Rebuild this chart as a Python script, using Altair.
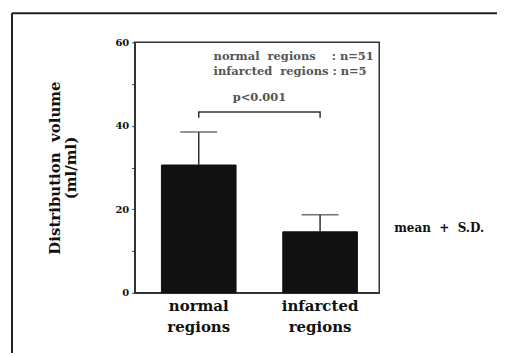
import altair as alt
import pandas as pd

groups = ["normal regions", "infarcted regions"]
means = [30.6, 14.6]
sds = [7.9, 4.1]
counts = [51, 5]
y_ticks = [0, 10, 20, 30, 40, 50, 60]
p_text = "p<0.001"
bracket_top = 43.3
bracket_end = 41.9

NB = "\u00a0"
SERIF = "DejaVu Serif"

df = pd.DataFrame({"group": groups, "mean": means, "sd": sds})
df["upper"] = df["mean"] + df["sd"]

bracket = pd.DataFrame({
    "group": [groups[0], groups[0], groups[1], groups[1]],
    "y": [bracket_end, bracket_top, bracket_top, bracket_end],
    "order": [0, 1, 2, 3],
})

xscale = alt.Scale(paddingInner=0.385, paddingOuter=0.2, align=0.55)
xenc = alt.X("group:N", sort=groups, title=None, scale=xscale,
             axis=alt.Axis(labelAngle=0, labelExpr="split(datum.label, ' ')",
                           labelFont=SERIF, labelFontWeight="bold",
                           labelFontSize=15, labelColor="#111", labelLineHeight=21,
                           labelPadding=6, ticks=False, domainColor="#333",
                           domainWidth=1.5))
yscale = alt.Scale(domain=[0, 60], nice=False)

base = alt.Chart(df)
bars = base.mark_bar(color="#111", stroke="#111").encode(
    x=xenc,
    y=alt.Y("mean:Q", scale=yscale,
            title=["Distribution" + NB * 2 + "volume", "(ml/ml)"],
            axis=alt.Axis(values=y_ticks, grid=False,
                          labelExpr="datum.value % 20 == 0 ? datum.label : ''",
                          labelFont=SERIF, labelFontWeight="bold",
                          labelFontSize=10, labelColor="#111", labelPadding=3,
                          tickSize=3, tickColor="#333", domainColor="#333",
                          domainWidth=1.5,
                          titleFont=SERIF, titleFontWeight="bold",
                          titleFontSize=15, titleColor="#111", titlePadding=36,
                          titleLineHeight=16)),
)
err = base.mark_rule(color="#333", strokeWidth=1.5).encode(
    x=alt.X("group:N", sort=groups, scale=xscale), y="mean:Q", y2="upper:Q")
cap = base.mark_tick(color="#333", thickness=1.5, size=37).encode(
    x=alt.X("group:N", sort=groups, scale=xscale), y=alt.Y("upper:Q"))

br = alt.Chart(bracket).mark_line(color="#333", strokeWidth=1.5).encode(
    x=alt.X("group:N", sort=groups, scale=xscale), y=alt.Y("y:Q"), order="order:Q")

ann = pd.DataFrame({
    "t": ["normal" + NB * 2 + "regions" + NB * 4 + ":" + NB + f"n={counts[0]}",
          "infarcted" + NB * 2 + "regions" + NB + ":" + NB + f"n={counts[1]}",
          p_text],
    "y": [56.5, 52.9, 46.6],
})
ann_left = alt.Chart(ann.iloc[:2]).mark_text(
    align="left", baseline="middle", font=SERIF, fontWeight="bold",
    fontSize=11.5, color="#555").encode(
    x=alt.value(79), y=alt.Y("y:Q"), text="t:N")
ann_p = alt.Chart(ann.iloc[2:]).mark_text(
    align="center", baseline="middle", font=SERIF, fontWeight="bold",
    fontSize=11.5, color="#555").encode(
    x=alt.value(125), y=alt.Y("y:Q"), text="t:N")

msd = alt.Chart(pd.DataFrame({"t": ["mean" + NB * 2 + "+" + NB * 2 + "S.D."], "y": [15.5]})).mark_text(
    align="left", baseline="middle", font=SERIF, fontWeight="bold",
    fontSize=12, color="#111").encode(x=alt.value(260), y=alt.Y("y:Q"), text="t:N")

one = pd.DataFrame({"k": [0]})
frame_left = alt.Chart(one).mark_rule(color="#222", strokeWidth=2).encode(
    x=alt.value(-123), y=alt.value(-29), y2=alt.value(330))
frame_top = alt.Chart(one).mark_rule(color="#222", strokeWidth=2).encode(
    x=alt.value(-123), x2=alt.value(400), y=alt.value(-29))

chart = alt.layer(bars, err, cap, br, ann_left, ann_p, msd, frame_left, frame_top).properties(
    width=245, height=251,
    autosize=alt.AutoSizeParams(type="none"),
    padding={"left": 127, "top": 34, "right": 118, "bottom": 60},
    background="white",
).configure_view(stroke="#333", strokeWidth=1.5)

chart.save("out.html", embed_options={"renderer": "svg", "actions": False})
